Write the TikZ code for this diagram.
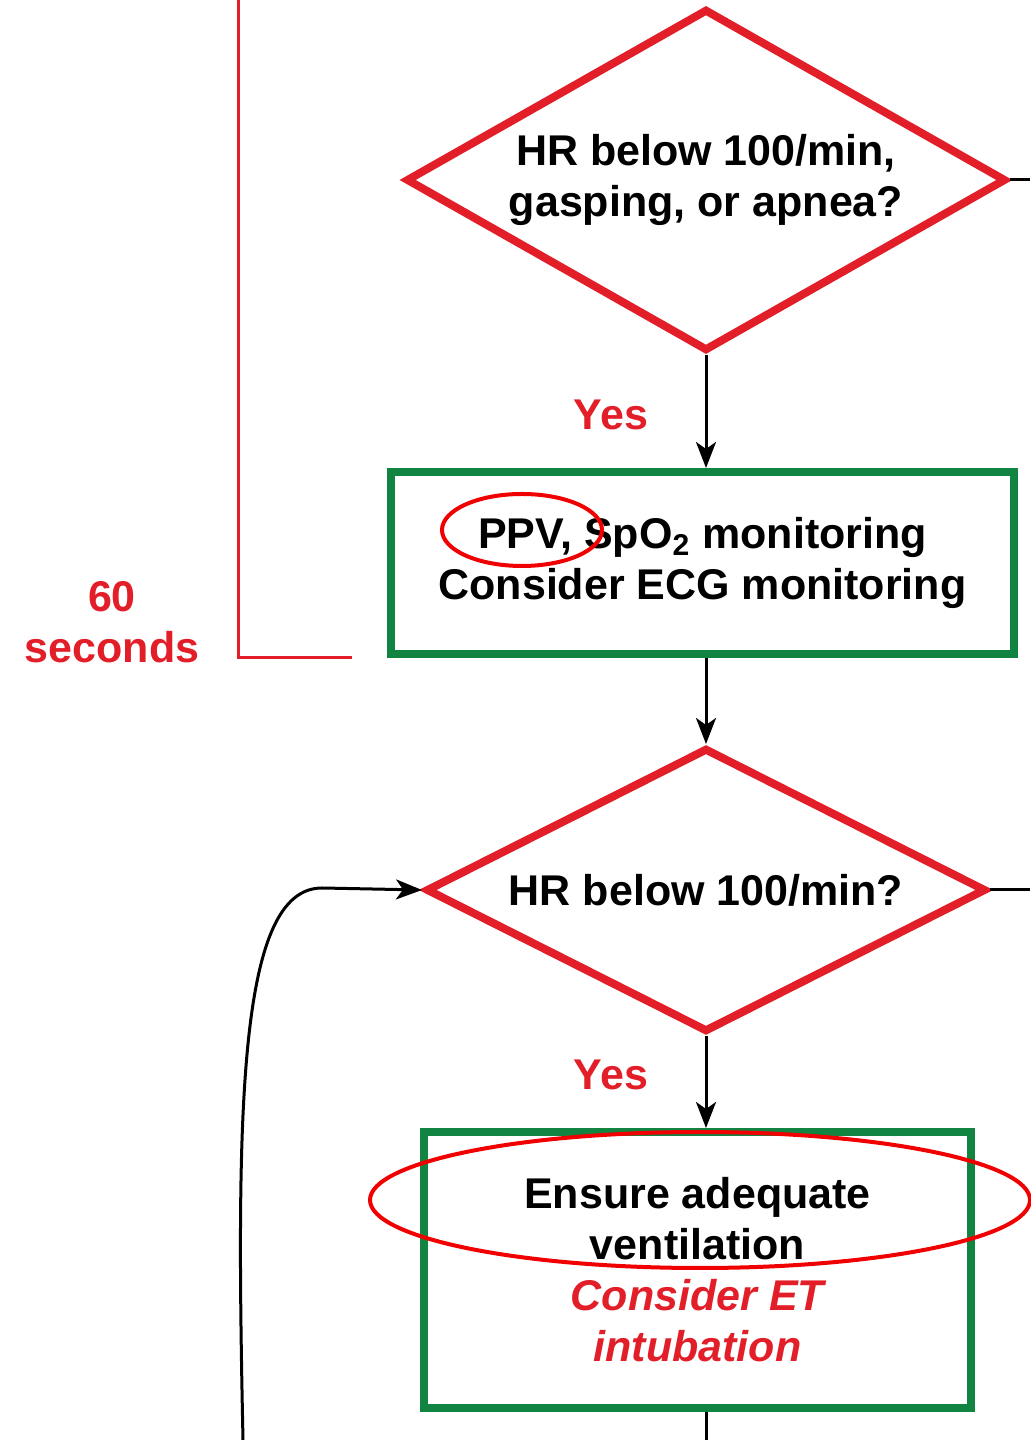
\documentclass[tikz,border=0pt]{standalone}
\usepackage{fontspec}
\setmainfont{Liberation Sans}
\usepackage{xcolor}
\usepackage{tikz}
\usetikzlibrary{shapes.geometric, arrows.meta, positioning}

\definecolor{algored}{RGB}{226,30,40}
\definecolor{algogreen}{RGB}{18,132,66}
\definecolor{markred}{RGB}{240,0,0}

\begin{document}
\begin{tikzpicture}[x=0.5pt, y=0.5pt,
  txt/.style={font=\fontsize{21.5}{25.5}\selectfont\bfseries, align=center},
  decision/.style={diamond, draw=algored, line width=4pt, txt, inner sep=0pt},
  action/.style={rectangle, draw=algogreen, line width=4pt, txt, inner sep=0pt},
  flow/.style={line width=1.5pt, -{Stealth[length=13pt, width=10pt, inset=3.5pt]}},
  plain/.style={line width=1.5pt},
  redlbl/.style={txt, text=algored}]
  \useasboundingbox (0,0) rectangle (1030,1440);

  % first check
  \node[decision, aspect=1.75, minimum width=300pt, minimum height=171pt] (hrgasp) at (706,1260)
    {HR below 100/min,\\gasping, or apnea?};
  \node[action, minimum width=311.5pt, minimum height=91pt] (ppv) at (702.5,877)
    {PPV, SpO\textsubscript{2} monitoring\\Consider ECG monitoring};
  \node[redlbl] (yesA) at (611,1025) {Yes};
  \draw[flow] (hrgasp.south) -- (hrgasp.south |- ppv.north);
  \coordinate (noA) at (1030,1260);
  \draw[plain] (hrgasp.east) -- (noA);

  % 60 second bracket
  \coordinate (brtop) at (238,1440);
  \coordinate (brbot) at (238,782);
  \coordinate (brend) at (352,782);
  \draw[algored, line width=1.5pt] (brtop) -- (brbot) -- (brend);
  \node[redlbl] (sixty) at (112,818) {60\\seconds};

  % second check
  \node[decision, aspect=1.97, minimum width=280pt, minimum height=142pt] (hrlow) at (706,550)
    {HR below 100/min?};
  \draw[flow] (hrlow.north |- ppv.south) -- (hrlow.north);
  \coordinate (noB) at (1030,550);
  \draw[plain] (hrlow.east) -- (noB);
  \node[redlbl] (yesB) at (611,365) {Yes};
  \node[action, minimum width=273.5pt, minimum height=138pt] (vent) at (697.5,170)
    {Ensure adequate\\ventilation\\{\itshape\color{algored}Consider ET}\\{\itshape\color{algored}intubation}};
  \draw[flow] (hrlow.south) -- (hrlow.south |- vent.north);
  \coordinate (ventout) at (706,0);
  \draw[plain] (ventout |- vent.south) -- (ventout);

  % loop back
  \coordinate (loopin) at (243,0);
  \draw[flow] (loopin) .. controls (236,330) and (238,552) .. (322,552) -- (hrlow.west);

  % highlight marks
  \draw[markred, line width=2pt] (522,910) ellipse [x radius=40pt, y radius=18pt];
  \draw[markred, line width=2pt] (700,240) ellipse [x radius=165pt, y radius=34pt];
\end{tikzpicture}
\end{document}
